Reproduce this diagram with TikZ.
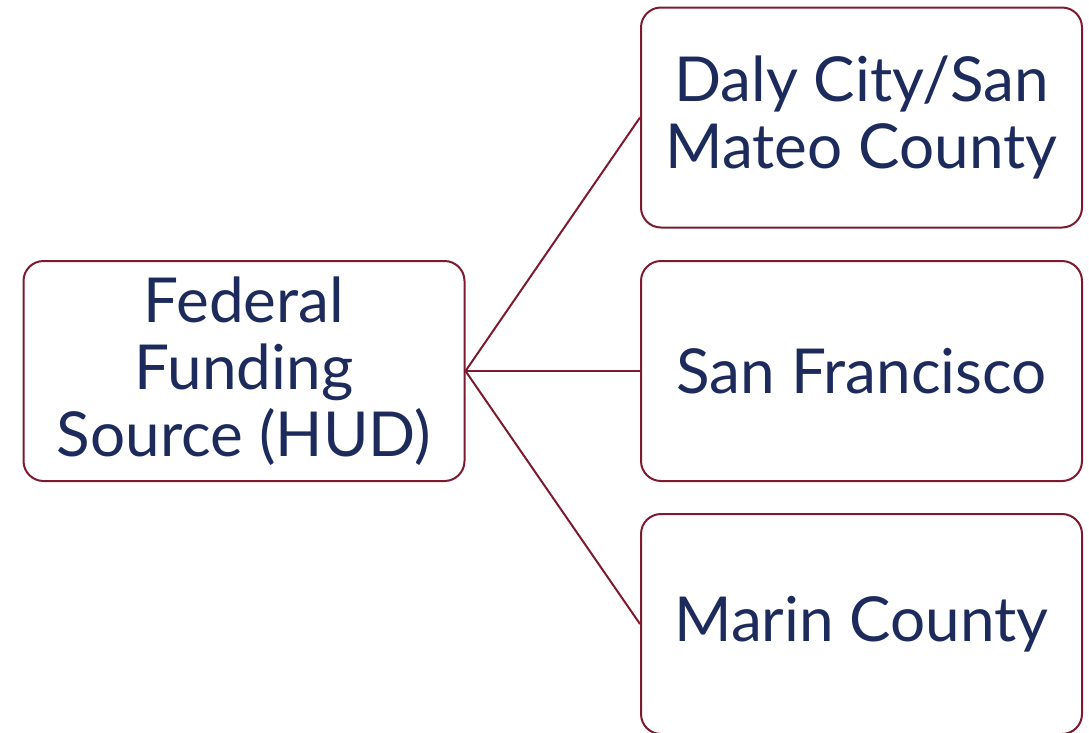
\documentclass[tikz,border=0pt]{standalone}
\usepackage{fontspec}
\setmainfont{Lato}
\definecolor{bordr}{HTML}{7E1A30}
\definecolor{txt}{HTML}{1C2B5C}
\begin{document}
\begin{tikzpicture}[x=1pt,y=-1pt,
  box/.style={draw=bordr, line width=2pt, rounded corners=20pt, fill=white,
    minimum width=441pt, minimum height=220pt, align=center, text=txt,
    font=\fontsize{62}{67}\selectfont, inner sep=0pt},
  conn/.style={draw=bordr, line width=2pt}]
\useasboundingbox (0,0) rectangle (1089,732);
\node[box] (src) at (244,371) {Federal\\Funding\\Source (HUD)};
\node[box] (daly) at (861.5,117.5) {Daly City/San\\Mateo County};
\node[box] (sf) at (861.5,371) {San Francisco};
\node[box] (marin) at (861.5,624) {Marin County};
\draw[conn] (src.east) -- (daly.west);
\draw[conn] (src.east) -- (sf.west);
\draw[conn] (src.east) -- (marin.west);
\end{tikzpicture}
\end{document}
